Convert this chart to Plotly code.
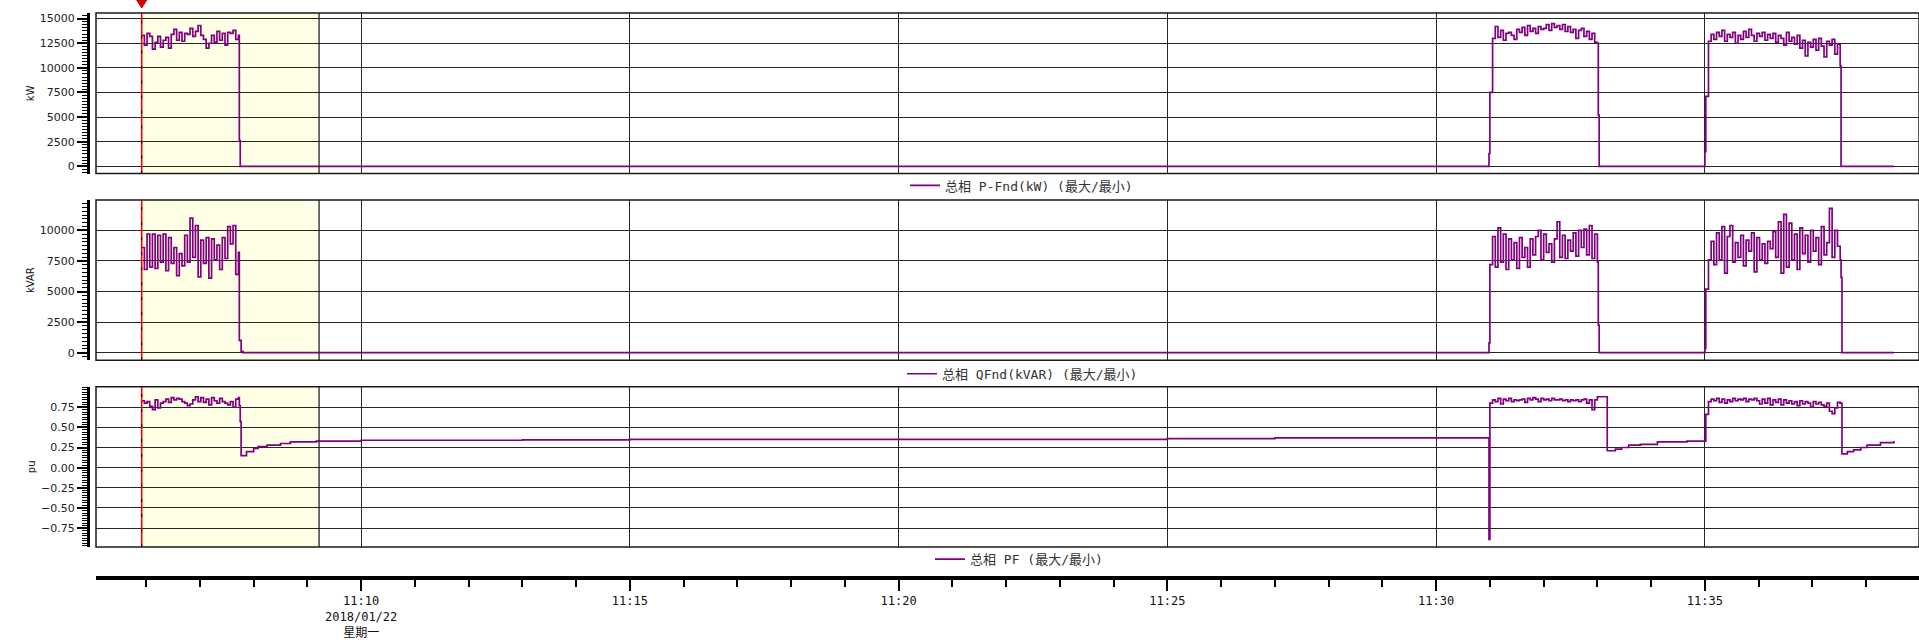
import pandas as pd
import plotly.graph_objects as go

# ---------------- data ----------------
DATE = "2018-01-22"
STEP_S = 3  # sampling step of the "on" segments, seconds

ON_STARTS = ["11:05:55", "11:31:00", "11:35:01"]

P_on1 = [13300, 12300, 13500, 13200, 11900, 12600, 13200, 12100, 12800, 13100,
         12000, 13400, 13900, 12800, 13600, 12700, 13500, 13400, 14000, 13200,
         13700, 14300, 13300, 12900, 12000, 12500, 13300, 12600, 13700, 12800,
         13500, 12300, 13600, 13500, 13800, 12900, 13300]
P_on2 = [7500, 13000, 14200, 13100, 13800, 12800, 13500, 13600, 13300, 12900,
         13900, 13600, 14100, 13300, 14300, 13700, 14000, 13500, 14200, 13900,
         14000, 14400, 13800, 14500, 14100, 14300, 13900, 14400, 13700, 14200,
         13600, 13900, 13000, 13800, 14000, 13200, 13700, 12900, 13500, 12600,
         12500]
P_on3 = [7100, 12700, 13400, 12900, 13600, 13200, 13800, 12700, 13400, 13100,
         13600, 12500, 13300, 12900, 13700, 13100, 13900, 13300, 12700, 13500,
         13200, 13600, 12800, 13400, 13000, 13500, 12600, 13300, 13000, 12300,
         13600, 12700, 13100, 12400, 13300, 12000, 12800, 11200, 12600, 12100,
         12900, 11800, 13000, 12200, 11100, 12700, 12300, 12900, 11400, 12400,
         10200]
P_off_t = ["11:07:44", "11:07:45", "11:30:58", "11:30:59", "11:33:01", "11:33:02",
           "11:35:00", "11:37:32", "11:38:31"]
P_off_v = [2600, 0, 0, 1300, 5200, 0, 1500, 0, 0]

Q_on1 = [8600, 6800, 9700, 7000, 9700, 6900, 9600, 7400, 9700, 6700,
         9400, 7300, 8600, 6300, 8100, 7100, 9600, 7400, 11000, 7800,
         10400, 6200, 9200, 7300, 9400, 6100, 9300, 7600, 8800, 6800,
         9400, 7700, 10300, 8900, 10400, 6400, 8200]
Q_on2 = [7200, 9500, 7000, 10200, 7400, 9700, 6800, 9300, 7600, 9000,
         6900, 9400, 7800, 8600, 7000, 9300, 8000, 9500, 10000, 7600,
         9700, 8200, 8900, 7400, 9300, 10700, 7800, 9600, 7700, 9200,
         8300, 9800, 7900, 10000, 8600, 10100, 8000, 10400, 7700, 9700,
         7400]
Q_on3 = [5200, 7600, 9100, 7200, 9800, 7600, 10300, 6500, 9500, 10400,
         7400, 9000, 7800, 9600, 7100, 9200, 8300, 9800, 6600, 9400,
         7600, 8900, 7300, 9100, 8500, 9900, 7800, 10700, 6500, 11300,
         7000, 10600, 7600, 9700, 6800, 10200, 8100, 9600, 7400, 10000,
         8300, 9400, 7200, 10300, 8000, 9000, 11800, 7800, 10000, 8700,
         7600]
Q_off_t = ["11:07:44", "11:07:46", "11:07:48", "11:30:58", "11:30:59", "11:33:01",
           "11:33:02", "11:35:00", "11:37:32", "11:37:33", "11:38:31"]
Q_off_v = [1000, 100, 0, 0, 800, 2250, 0, 350, 6150, 0, 0]

PF_on1 = [0.83, 0.80, 0.82, 0.76, 0.72, 0.84, 0.74, 0.80, 0.82, 0.85,
          0.81, 0.87, 0.84, 0.86, 0.85, 0.82, 0.80, 0.77, 0.79, 0.84,
          0.88, 0.82, 0.87, 0.81, 0.85, 0.78, 0.87, 0.83, 0.80, 0.86,
          0.82, 0.80, 0.78, 0.82, 0.75, 0.85, 0.87]
PF_on2 = [0.80, 0.84, 0.82, 0.86, 0.79, 0.85, 0.83, 0.86, 0.82, 0.84,
          0.83, 0.84, 0.85, 0.81, 0.86, 0.84, 0.87, 0.85, 0.82, 0.86,
          0.84, 0.85, 0.83, 0.86, 0.84, 0.84, 0.85, 0.83, 0.84, 0.82,
          0.84, 0.83, 0.84, 0.82, 0.84, 0.85, 0.80, 0.84, 0.72, 0.84,
          0.88]
PF_on3 = [0.66, 0.82, 0.85, 0.83, 0.86, 0.81, 0.85, 0.80, 0.84, 0.82,
          0.86, 0.83, 0.85, 0.84, 0.86, 0.82, 0.85, 0.84, 0.86, 0.83,
          0.79, 0.85, 0.80, 0.86, 0.78, 0.84, 0.81, 0.85, 0.78, 0.84,
          0.80, 0.83, 0.79, 0.82, 0.77, 0.83, 0.79, 0.82, 0.80, 0.75,
          0.82, 0.79, 0.81, 0.78, 0.76, 0.80, 0.70, 0.67, 0.74, 0.81,
          0.80]
PF_off_t = ["11:07:44", "11:07:45", "11:07:46", "11:07:52", "11:08:00", "11:08:05",
            "11:08:15", "11:08:30", "11:08:41", "11:09:10", "11:10:00", "11:13:00",
            "11:15:00", "11:20:00", "11:25:00", "11:27:00", "11:30:58", "11:30:59",
            "11:33:10", "11:33:11", "11:33:20", "11:33:27", "11:33:35", "11:33:48",
            "11:34:07", "11:34:40", "11:35:00",
            "11:37:33", "11:37:39", "11:37:46", "11:37:54", "11:38:01", "11:38:16",
            "11:38:31"]
PF_off_v = [0.77, 0.57, 0.15, 0.20, 0.24, 0.26,
            0.28, 0.30, 0.32, 0.33, 0.34, 0.345,
            0.35, 0.35, 0.36, 0.37, 0.37, -0.89,
            0.88, 0.21, 0.23, 0.25, 0.28, 0.29,
            0.32, 0.33, 0.33,
            0.17, 0.20, 0.22, 0.25, 0.28, 0.31,
            0.33]

CURSOR = "11:05:55"
SEL_END = "11:09:13"
X_RANGE = ["11:05:04", "11:38:59"]

x_tick_vals = ["11:10", "11:15", "11:20", "11:25", "11:30", "11:35"]
x_tick_text = ["11:10<br>2018/01/22<br>星期一", "11:15", "11:20", "11:25", "11:30", "11:35"]

P_ticks = [0, 2500, 5000, 7500, 10000, 12500, 15000]
Q_ticks = [0, 2500, 5000, 7500, 10000]
PF_ticks = [-0.75, -0.5, -0.25, 0.0, 0.25, 0.5, 0.75]

LEG_P = "总相 P-Fnd(kW) (最大/最小)"
LEG_Q = "总相 QFnd(kVAR) (最大/最小)"
LEG_PF = "总相 PF (最大/最小)"


# ---------------- helpers ----------------
def ts(hms):
    return pd.Timestamp(f"{DATE} {hms}")


def build(on_lists, off_t, off_v):
    rows = []
    for start, vals in zip(ON_STARTS, on_lists):
        t0 = ts(start)
        for i, v in enumerate(vals):
            rows.append((t0 + pd.Timedelta(seconds=STEP_S * i), v))
    for t, v in zip(off_t, off_v):
        rows.append((ts(t), v))
    rows.sort(key=lambda r: r[0])
    return [r[0] for r in rows], [r[1] for r in rows]


P_t, P_v = build([P_on1, P_on2, P_on3], P_off_t, P_off_v)
Q_t, Q_v = build([Q_on1, Q_on2, Q_on3], Q_off_t, Q_off_v)
F_t, F_v = build([PF_on1, PF_on2, PF_on3], PF_off_t, PF_off_v)

# ---------------- layout geometry ----------------
W, H = 1919, 640
ML, MR, MT, MB = 80, 0, 13, 57
PW = W - ML - MR
PH = H - MT - MB
XD0 = (96 - ML) / PW
YPOS = (88 - ML) / PW


def ydom(top_px, bot_px):
    return [(H - MB - bot_px) / PH, (H - MB - top_px) / PH]


D1 = ydom(13, 175)
D2 = ydom(201.7, 363.3)
D3 = ydom(390, 551.7)

LINE_COLOR = "#800080"
GRID = "#262626"
TICKFONT = dict(family="DejaVu Sans, Noto Sans CJK SC", size=11, color="#222222")
MONO = "DejaVu Sans Mono, Noto Sans CJK SC"

fig = go.Figure()
for (xs, ys, name, xa, ya, lg) in [
    (P_t, P_v, LEG_P, "x", "y", "legend"),
    (Q_t, Q_v, LEG_Q, "x2", "y2", "legend2"),
    (F_t, F_v, LEG_PF, "x3", "y3", "legend3"),
]:
    fig.add_trace(go.Scatter(
        x=xs, y=ys, mode="lines", name=name, xaxis=xa, yaxis=ya, legend=lg,
        line=dict(color=LINE_COLOR, width=1.7, shape="hv"),
        hoverinfo="skip", showlegend=True,
    ))

xr = [ts(X_RANGE[0]), ts(X_RANGE[1])]
tv = [ts(v) for v in x_tick_vals]

common_x = dict(domain=[XD0, 1.0], range=xr, type="date", tickmode="array",
                tickvals=tv, showgrid=True, gridcolor=GRID, gridwidth=1,
                zeroline=False)
x1 = dict(common_x, anchor="y", showticklabels=False, ticks="", showline=False)
x2 = dict(common_x, anchor="y2", matches="x", showticklabels=False, ticks="", showline=False)
x3 = dict(common_x, anchor="free", position=0, matches="x", ticktext=x_tick_text,
          showticklabels=True, ticks="outside", ticklen=11, tickwidth=1.5,
          tickcolor="black", showline=True, linewidth=4, linecolor="black",
          tickfont=dict(family=MONO, size=12, color="#111111"),
          minor=dict(tickmode="linear", tick0=ts("11:00"), dtick=60000,
                     ticks="outside", ticklen=7, tickwidth=1.5, tickcolor="black",
                     showgrid=False))


def yax(dom, rng, ticks, title, minor_dt, fmt):
    return dict(domain=dom, anchor="free", position=YPOS, range=rng,
                tickmode="array", tickvals=ticks, tickformat=fmt, ticks="outside",
                ticklen=10, tickwidth=1.5, tickcolor="black", showline=True,
                linewidth=3, linecolor="black", showgrid=True, gridcolor=GRID,
                gridwidth=1, zeroline=False, tickfont=TICKFONT,
                title=dict(text=title, standoff=2,
                           font=dict(family="DejaVu Sans", size=10, color="#111111")),
                minor=dict(tickmode="linear", tick0=0, dtick=minor_dt, ticks="outside",
                           ticklen=5, tickwidth=1, tickcolor="black", showgrid=False))


shapes = []
for xa, ya in [("x", "y"), ("x2", "y2"), ("x3", "y3")]:
    shapes.append(dict(type="rect", xref=xa, yref=f"{ya} domain", x0=ts(CURSOR),
                       x1=ts(SEL_END), y0=0, y1=1, fillcolor="#FFFFE6",
                       line=dict(width=0), layer="below"))
    shapes.append(dict(type="line", xref=xa, yref=f"{ya} domain", x0=ts(SEL_END),
                       x1=ts(SEL_END), y0=0, y1=1, line=dict(color="#222222", width=1.3),
                       layer="above"))
    shapes.append(dict(type="line", xref=xa, yref=f"{ya} domain", x0=ts(CURSOR),
                       x1=ts(CURSOR), y0=0, y1=1, line=dict(color="#FF0000", width=1.6),
                       layer="above"))
    shapes.append(dict(type="line", xref=xa, yref=f"{ya} domain", x0=ts(CURSOR),
                       x1=ts(CURSOR), y0=0, y1=1,
                       line=dict(color="#000000", width=1, dash="3px,12px"),
                       layer="above"))
    shapes.append(dict(type="rect", xref=f"{xa} domain", yref=f"{ya} domain", x0=0,
                       x1=1, y0=0, y1=1, line=dict(color="#1a1a1a", width=1.5),
                       layer="above"))

# cursor marker (red down-pointing triangle above the top panel)
shapes.append(dict(type="path", xref="x", xsizemode="pixel", xanchor=ts(CURSOR),
                   yref="paper", ysizemode="pixel", yanchor=1,
                   path="M-5,13 L5,13 L0,5 Z", fillcolor="#E00000",
                   line=dict(color="#B00000", width=1), layer="above"))


def leg(x_px, y_px):
    return dict(x=(x_px - ML) / PW, y=(H - MB - y_px) / PH, xanchor="left",
                yanchor="middle", bgcolor="rgba(0,0,0,0)", borderwidth=0,
                font=dict(family=MONO, size=13, color="#333333"),
                itemwidth=30, tracegroupgap=0)


fig.update_layout(
    width=W, height=H,
    margin=dict(l=ML, r=MR, t=MT, b=MB, pad=0),
    paper_bgcolor="white", plot_bgcolor="white",
    xaxis=x1, xaxis2=x2, xaxis3=x3,
    yaxis=yax(D1, [-740, 15570], P_ticks, "kW", 312.5, "d"),
    yaxis2=yax(D2, [-616, 12480], Q_ticks, "kVAR", 312.5, "d"),
    yaxis3=yax(D3, [-0.984, 1.0045], PF_ticks, "pu", 0.03125, ".2f"),
    shapes=shapes,
    legend=leg(905, 187),
    legend2=leg(902, 377),
    legend3=leg(930, 564),
    hovermode=False,
)

fig.write_html("out.html")
